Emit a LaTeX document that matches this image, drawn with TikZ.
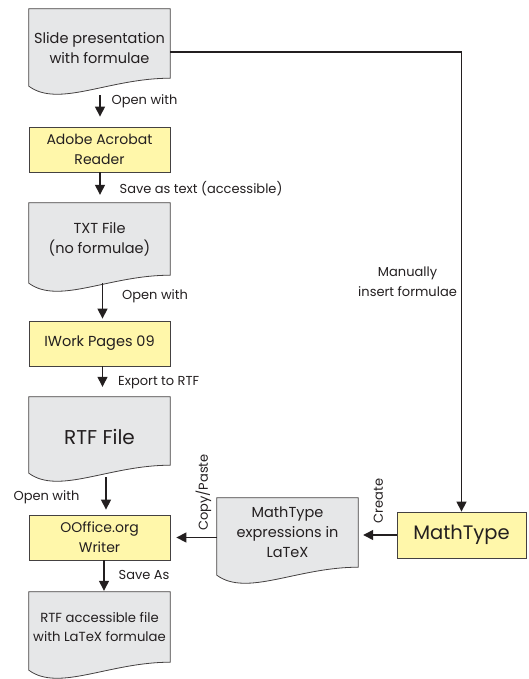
\documentclass[tikz,border=0pt]{standalone}
\usepackage{fontspec}
\setmainfont{Poppins}
\usetikzlibrary{arrows.meta,calc,backgrounds}

\definecolor{docgray}{RGB}{230,231,232}
\definecolor{appyellow}{RGB}{255,247,170}
\definecolor{inkline}{RGB}{35,31,32}

\tikzset{
  docnode/.style={minimum width=141pt,minimum height=70pt,inner sep=0pt,align=center,
    text=inkline,font=\fontsize{14.5}{20}\selectfont},
  appbox/.style={draw=inkline!85,line width=0.8pt,fill=appyellow,minimum width=141pt,
    minimum height=45pt,inner sep=0pt,align=center,text=inkline,font=\fontsize{14}{20}\selectfont},
  flow/.style={draw=inkline,line width=1.3pt,-{Triangle[length=10pt,width=10pt]}},
  lbl/.style={font=\fontsize{13}{20}\selectfont,text=inkline,inner sep=0pt},
}

% wavy bottom of a document node
\newcommand\docwave[1]{%
  \begin{pgfonlayer}{background}
  \draw[draw=inkline!85,line width=0.8pt,fill=docgray] (#1.north west) -- (#1.north east) -- (#1.south east)
    .. controls ($(#1.south west)+(80pt,0)$) and ($(#1.south west)+(30pt,-30pt)$) .. ($(#1.south west)+(0,-8pt)$) -- cycle;
  \end{pgfonlayer}}

\begin{document}
\begin{tikzpicture}[x=1pt,y=-1pt]
\useasboundingbox (0,0) rectangle (529,679);

\node[docnode,minimum height=69pt] (slide) at (99.5,43.5) {\rule{0pt}{21pt}Slide presentation\\with formulae};
\docwave{slide}
\node[appbox] (adobe) at (99.5,149.5) {Adobe Acrobat\\Reader};
\node[docnode,minimum height=72pt] (txt) at (99.5,239) {TXT File\\(no formulae)};
\docwave{txt}
\node[appbox,font=\fontsize{14.5}{20}\selectfont] (iwork) at (99.5,343.5) {IWork Pages 09};
\node[docnode,minimum height=68pt,font=\fontsize{20}{24}\selectfont] (rtf) at (99.5,431) {\rule{0pt}{28pt}RTF File};
\docwave{rtf}
\node[appbox] (ooffice) at (99.5,537.5) {OOffice.org\\Writer};
\node[docnode,font=\fontsize{13.2}{19}\selectfont] (rtfacc) at (99.5,627) {RTF accessible file\\with LaTeX formulae};
\docwave{rtfacc}
\node[docnode,minimum height=69pt,font=\fontsize{14.5}{20}\selectfont] (expr) at (287.5,532.5) {MathType\\expressions in\\LaTeX};
\docwave{expr}
\node[appbox,minimum width=129pt,minimum height=46pt,font=\fontsize{19.5}{24}\selectfont] (mathtype) at (461.5,535) {MathType};

% left column
\draw[flow,shorten >=10pt] ([xshift=0.5pt,yshift=-17pt]slide.south) -- node[lbl,pos=0.2,right=11pt] {Open with} ([xshift=0.5pt]adobe.north);
\draw[flow,shorten >=8pt] ([xshift=0.5pt]adobe.south) -- node[lbl,pos=0.55,right=19pt] {Save as text (accessible)} ([xshift=0.5pt]txt.north);
\draw[flow,shorten >=2pt] ([xshift=3pt,yshift=-8pt]txt.south) -- node[lbl,pos=0.34,right=19pt] {Open with} ([xshift=3pt]iwork.north);
\draw[flow,shorten >=10pt] ([xshift=3pt]iwork.south) -- node[lbl,pos=0.52,right=15pt] {Export to RTF} ([xshift=3pt]rtf.north);
\draw[flow,shorten >=5pt] ([xshift=6.5pt,yshift=-12pt]rtf.south) -- node[lbl,pos=0.53,left=26pt] {Open with} ([xshift=6.5pt]ooffice.north);
\draw[flow,shorten >=1pt] ([xshift=4.5pt]ooffice.south) -- node[lbl,pos=0.47,right=14pt] {Save As} ([xshift=4.5pt]rtfacc.north);

% from the right
\draw[flow,shorten >=6pt] (expr.west |- ooffice.east) -- node[lbl,pos=0,xshift=-5pt,yshift=6pt,rotate=90,anchor=south west] {Copy/Paste} (ooffice.east);
\draw[flow,shorten >=5pt] (mathtype.west) -- node[lbl,pos=0,xshift=-13pt,yshift=11pt,rotate=90,anchor=south west] {Create} (mathtype.west -| expr.east);
\draw[flow] ([yshift=-8.5pt]slide.east) -| node[lbl,pos=0.75,left=4pt,align=center] {Manually\\insert formulae} (mathtype.north);
\end{tikzpicture}
\end{document}
